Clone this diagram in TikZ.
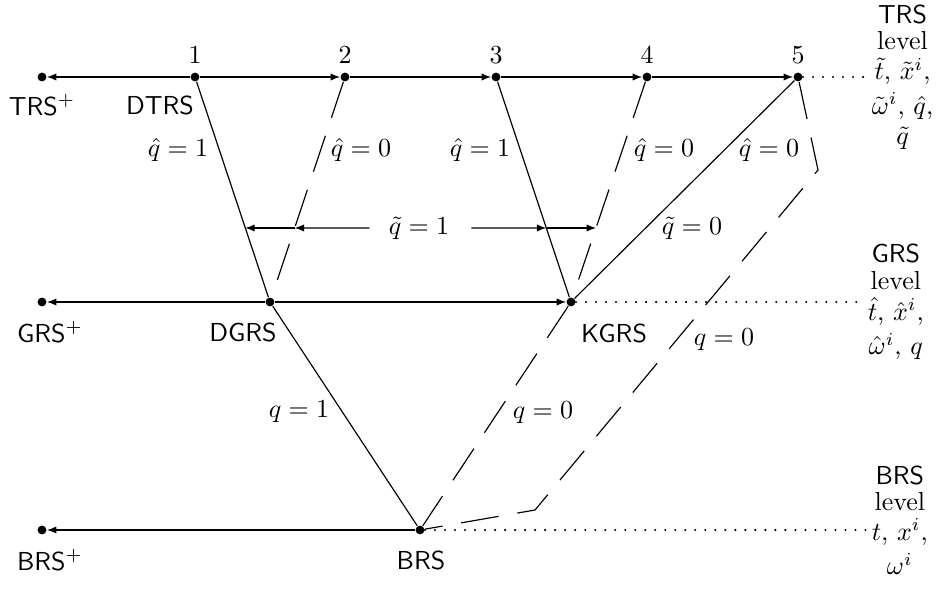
\documentclass[tikz,border=0pt]{standalone}
\usetikzlibrary{arrows.meta,calc}
\begin{document}
\begin{tikzpicture}[x=0.3846pt,y=-0.3846pt,line width=0.45pt,
  dot/.style={circle,fill,inner sep=0pt,minimum size=3.4pt},
  arr/.style={-{Latex[length=3.6pt,width=2.8pt]}},
  longdash/.style={dash pattern=on 14.6pt off 7.3pt},
  dotline/.style={line width=0.9pt,line cap=round,dash pattern=on 0pt off 3.85pt},
  lab/.style={font=\sffamily},
  stack/.style={anchor=west,inner sep=2pt}]
\useasboundingbox (0,0) rectangle (941,595);
% TRS level points
\node[dot] (trsp) at (42,77) {};
\node[dot] (p1) at (195,77) {};
\node[dot] (p2) at (345,77) {};
\node[dot] (p3) at (496,77) {};
\node[dot] (p4) at (647,77) {};
\node[dot] (p5) at (798,77) {};
% GRS level points
\node[dot] (grsp) at (42,302) {};
\node[dot] (dgrs) at (270,302) {};
\node[dot] (kgrs) at (571,302) {};
% BRS level points
\node[dot] (brsp) at (42,530) {};
\node[dot] (brs) at (420,530) {};
% number labels
\node (n1) at (195,55) {$1$};
\node (n2) at (345,55) {$2$};
\node (n3) at (496,55) {$3$};
\node (n4) at (647,55) {$4$};
\node (n5) at (798,55) {$5$};
% names
\node[lab] (ltrsp) at (42,105) {TRS$^+$};
\node[lab] (ldtrs) at (160,105) {DTRS};
\node[lab] (lgrsp) at (50,332) {GRS$^+$};
\node[lab] (ldgrs) at (243,332) {DGRS};
\node[lab] (lkgrs) at (614,333) {KGRS};
\node[lab] (lbrsp) at (50,560) {BRS$^+$};
\node[lab] (lbrs) at (421,560) {BRS};
% level arrows
\draw[arr] (p1) -- (trsp);
\draw[arr] (p1) -- (p2);
\draw[arr] (p2) -- (p3);
\draw[arr] (p3) -- (p4);
\draw[arr] (p4) -- (p5);
\draw[arr] (dgrs) -- (grsp);
\draw[arr] (dgrs) -- (kgrs);
\draw[arr] (brs) -- (brsp);
% right stacks
\node[stack] (trslev) at (866,77) {\shortstack{\textsf{TRS}\\level\\$\tilde t$, $\tilde x^i$,\\$\tilde\omega^i$, $\hat q$,\\$\tilde q$}};
\node[stack] (grslev) at (862,302) {\shortstack{\textsf{GRS}\\level\\$\hat t$, $\hat x^i$,\\$\hat\omega^i$, $q$}};
\node[stack] (brslev) at (866,520) {\shortstack{\textsf{BRS}\\level\\$t$, $x^i$,\\$\omega^i$}};
\coordinate (brsend) at (brslev.west |- brs);
\draw[dotline] (p5) -- (trslev.west);
\draw[dotline] (kgrs) -- (grslev.west);
\draw[dotline] (brs) -- (brsend);
% world lines
\draw (p1) -- (dgrs);
\draw[longdash] (p2) -- (dgrs);
\draw (p3) -- (kgrs);
\draw[longdash] (p4) -- (kgrs);
\draw (p5) -- (kgrs);
\draw (dgrs) -- (brs);
\draw[longdash] (kgrs) -- (brs);
\coordinate (b1) at (818,170);
\coordinate (b2) at (535,510);
\draw[longdash] (p5) -- (b1) -- (b2) -- (brs);
% line labels
\node (l1) at (178,150) {$\hat q=1$};
\node (l2) at (361,150) {$\hat q=0$};
\node (l3) at (480,150) {$\hat q=1$};
\node (l4) at (664,150) {$\hat q=0$};
\node (l5) at (769,150) {$\hat q=0$};
\node (l6) at (692,228) {$\tilde q=0$};
\node (l7) at (724,340) {$q=0$};
\node (l8) at (299,412) {$q=1$};
\node (l9) at (543,413) {$q=0$};
% dimension arrows
\coordinate (i1) at ($(p1)!0.671!(dgrs)$);
\coordinate (i2) at ($(p2)!0.671!(dgrs)$);
\coordinate (i3) at ($(p3)!0.671!(kgrs)$);
\coordinate (i4) at ($(p4)!0.671!(kgrs)$);
\node (qt1) at (419,228) {$\tilde q=1$};
\draw[arr,shorten <=4pt] (qt1) -- (i2);
\draw[arr] (i2) -- (i1);
\draw[arr,shorten <=5pt] (qt1) -- (i3);
\draw[arr] (i3) -- (i4);
\end{tikzpicture}
\end{document}
